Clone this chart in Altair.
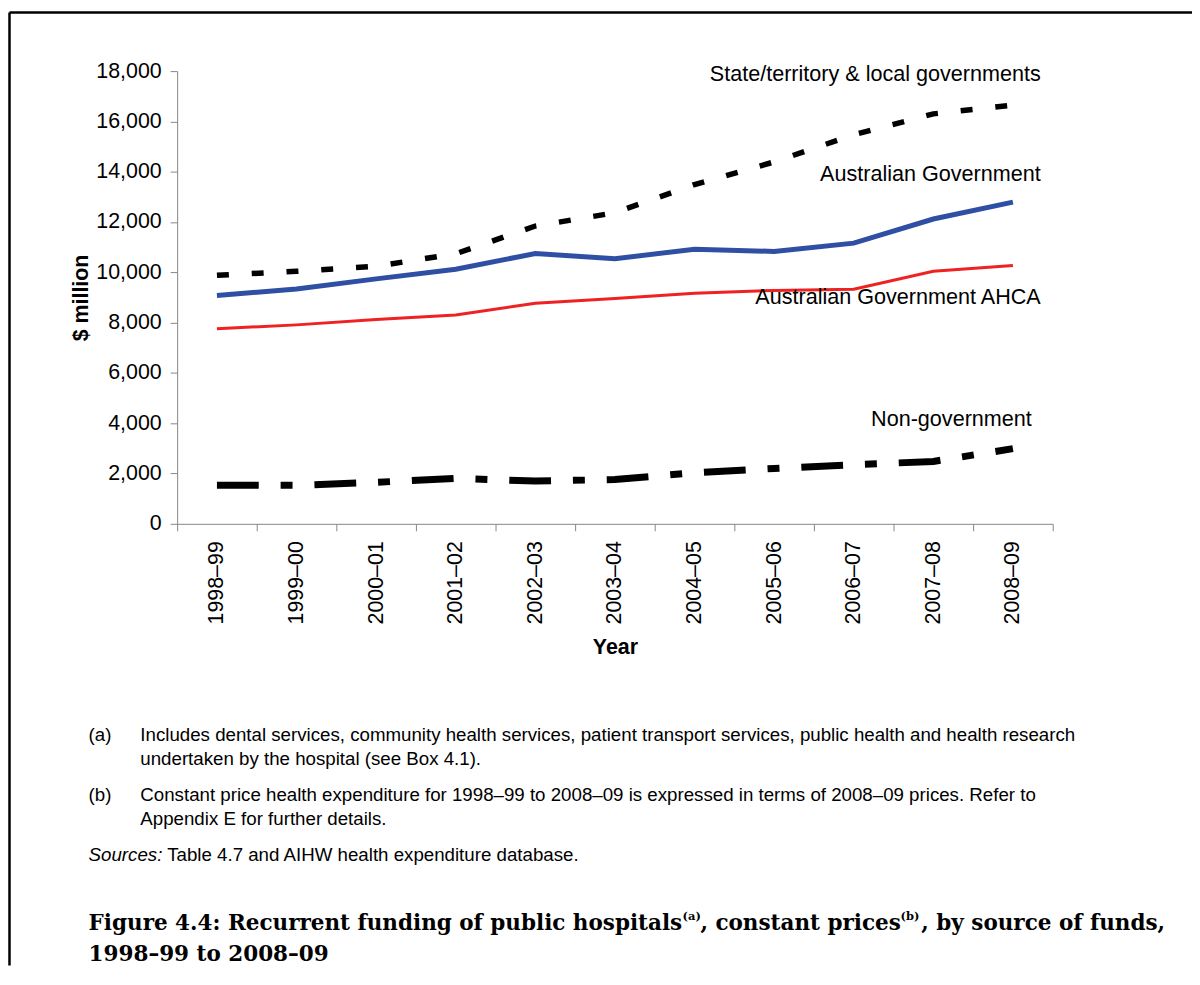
import altair as alt
import pandas as pd

# ---------------- data ----------------
years = ["1998–99", "1999–00", "2000–01", "2001–02", "2002–03", "2003–04",
         "2004–05", "2005–06", "2006–07", "2007–08", "2008–09"]
state_local = [9880, 10040, 10240, 10740, 11840, 12370, 13490, 14390, 15470, 16300, 16650]
aus_gov = [9080, 9340, 9740, 10120, 10750, 10540, 10920, 10830, 11160, 12120, 12790]
aus_gov_ahca = [7760, 7910, 8120, 8300, 8770, 8960, 9170, 9280, 9330, 10040, 10270]
non_gov = [1530, 1530, 1650, 1810, 1700, 1760, 2030, 2200, 2350, 2480, 2990]

series_names = ["State/territory & local governments", "Australian Government",
                "Australian Government AHCA", "Non-government"]
label_values = [17600, 13640, 8730, 3900]
y_ticks = [0, 2000, 4000, 6000, 8000, 10000, 12000, 14000, 16000, 18000]

note_a = ["Includes dental services, community health services, patient transport services, public health and health research",
          "undertaken by the hospital (see Box 4.1)."]
note_b = ["Constant price health expenditure for 1998–99 to 2008–09 is expressed in terms of 2008–09 prices. Refer to",
          "Appendix E for further details."]
sources_lead = "Sources:"
sources_text = "Table 4.7 and AIHW health expenditure database."
caption_parts = ["Figure 4.4: Recurrent funding of public hospitals", "(a)", ", constant prices", "(b)",
                 ", by source of funds,"]
caption_line2 = "1998–99 to 2008–09"

# ---------------- layout ----------------
W, H = 880, 455
PAD = {"left": 170, "top": 61, "right": 140, "bottom": 444}
SANS = "Liberation Sans"
SERIF = "DejaVu Serif"
FS = 21.5
LFS = 21.7

rows = []
for name, vals in zip(series_names, [state_local, aus_gov, aus_gov_ahca, non_gov]):
    for y, v in zip(years, vals):
        rows.append({"year": y, "value": v, "series": name})
df = pd.DataFrame(rows)

labels_df = pd.DataFrame({"year": ["2008–09"] * 4, "value": label_values, "series": series_names})

x_enc = alt.X("year:N", sort=years,
              scale=alt.Scale(type="band", paddingInner=0, paddingOuter=0),
              axis=alt.Axis(labelAngle=270, labelFont=SANS, labelFontSize=FS, labelColor="black",
                            labelPadding=10, tickBand="extent", tickSize=7, tickColor="#868686",
                            domainColor="#868686", title="Year", titleFont=SANS, titleFontSize=FS,
                            titleFontWeight="bold", titleColor="black", titleY=124,
                            titleBaseline="middle"))
y_enc = alt.Y("value:Q", scale=alt.Scale(domain=[0, 18000], nice=False, zero=True),
              axis=alt.Axis(values=y_ticks, format=",.0f", labelFont=SANS, labelFontSize=FS,
                            labelColor="black", labelPadding=9, tickSize=7, tickColor="#868686",
                            domainColor="#868686", grid=False, title="$ million", titleFont=SANS,
                            titleFontSize=FS, titleFontWeight="bold", titleColor="black",
                            titleAngle=270, titleX=-96, titleY=H / 2, titleAlign="center",
                            titleBaseline="middle"))

base = alt.Chart(df).encode(x=x_enc, y=y_enc)

state_line = base.mark_line(color="black", strokeWidth=5.5, strokeDash=[12, 23]).transform_filter(
    alt.datum.series == series_names[0])
aus_line = base.mark_line(color="#2E4FA3", strokeWidth=5).transform_filter(
    alt.datum.series == series_names[1])
ahca_line = base.mark_line(color="#EE2222", strokeWidth=3).transform_filter(
    alt.datum.series == series_names[2])
non_line = base.mark_line(color="black", strokeWidth=7, strokeDash=[42, 22, 12, 22]).transform_filter(
    alt.datum.series == series_names[3])

lab_base = alt.Chart(labels_df).encode(x=alt.X("year:N", sort=years), y="value:Q", text="series:N")
labels_main = lab_base.mark_text(align="right", baseline="alphabetic", dx=28, font=SANS,
                                 fontSize=LFS, color="black").transform_filter(
    alt.datum.series != series_names[3])
labels_non = lab_base.mark_text(align="right", baseline="alphabetic", dx=19, font=SANS,
                                fontSize=LFS, color="black").transform_filter(
    alt.datum.series == series_names[3])


def txt(s, x, y, size=18.8, weight="normal", style="normal", font=SANS):
    return alt.Chart(alt.Data(values=[{"t": s}])).mark_text(
        align="left", baseline="alphabetic", font=font, fontSize=size, fontWeight=weight,
        fontStyle=style, color="black").encode(x=alt.value(x), y=alt.value(y), text="t:N")


OX, OY = 178, 69  # page position of plot origin
notes = [
    txt("(a)", 89 - OX, 742 - OY), txt(note_a[0], 141 - OX, 742 - OY), txt(note_a[1], 141 - OX, 766 - OY),
    txt("(b)", 89 - OX, 803 - OY), txt(note_b[0], 141 - OX, 803 - OY), txt(note_b[1], 141 - OX, 827 - OY),
    txt(sources_lead, 89 - OX, 863 - OY, style="italic"), txt(sources_text, 168 - OX, 863 - OY),
]
cap_x = [89, 686, 704, 905, 926]
cap = []
for part, cx in zip(caption_parts, cap_x):
    if part.startswith("("):
        cap.append(txt(part, cx - OX, 922 - OY, size=11.5, weight="bold", font=SERIF))
    else:
        cap.append(txt(part, cx - OX, 932 - OY, size=21.6, weight="bold", font=SERIF))
cap.append(txt(caption_line2, 89 - OX, 963 - OY, size=21.6, weight="bold", font=SERIF))

one = alt.Data(values=[{"k": 1}])
border_left = alt.Chart(one).mark_rule(color="black", strokeWidth=2.5).encode(
    x=alt.value(9.5 - OX), y=alt.value(10 - OY), y2=alt.value(960 + 8 - OY))
border_top = alt.Chart(one).mark_rule(color="black", strokeWidth=2.5).encode(
    x=alt.value(9.5 - OX), x2=alt.value(1200 - OX), y=alt.value(10 - OY))

chart = alt.layer(
    state_line, aus_line, ahca_line, non_line, labels_main, labels_non,
    *notes, *cap, border_left, border_top
).properties(
    width=W, height=H, padding=PAD, autosize=alt.AutoSizeParams(type="none"),
    background="white"
).configure_view(stroke=None)

chart.save("out.html", embed_options={"renderer": "svg", "actions": False})
